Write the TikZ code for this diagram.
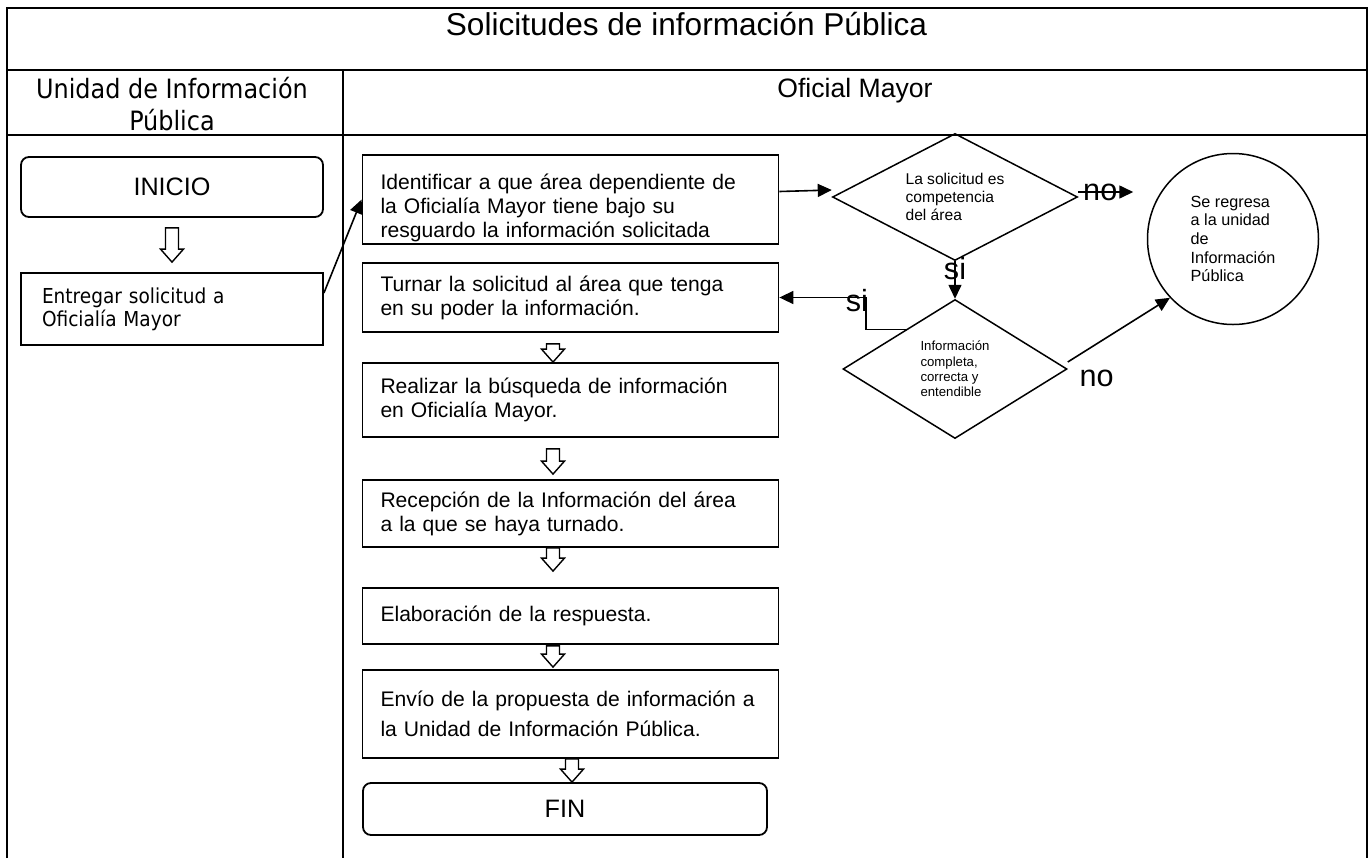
\documentclass[tikz,border=0pt]{standalone}
\usepackage{fontspec}
\setmainfont{Liberation Sans}
\newfontfamily\tahoma{DejaVu Sans Condensed}
\usetikzlibrary{shapes.geometric}
\usetikzlibrary{arrows.meta}
\usetikzlibrary{calc}

\tikzset{
  linea/.style={line width=0.75pt},
  paso/.style={draw, line width=0.9pt, align=left, inner xsep=9pt, inner ysep=0pt, text width=190pt, font=\fontsize{10.55}{12}\selectfont},
  extremo/.style={draw, line width=0.9pt, rounded corners=4pt, font=\fontsize{12.6}{14}\selectfont},
  decision/.style={draw, diamond, aspect=2, inner sep=0pt, line width=0.75pt, align=left},
  flecha/.style={line width=0.8pt, ->},
  etiq/.style={inner sep=0pt, font=\fontsize{15.3}{16}\selectfont},
  hueco/.style={draw, fill=white, line width=0.7pt, to path={let \p1=(\tikztostart), \p2=(\tikztotarget) in
    (\x1-3.25pt,\y1) -- (\x1-3.25pt,\y2+6.5pt) -- (\x1-5.75pt,\y2+6.5pt) -- (\x1,\y2) -- (\x1+5.75pt,\y2+6.5pt) -- (\x1+3.25pt,\y2+6.5pt) -- (\x1+3.25pt,\y1) -- cycle}}
}

\begin{document}
\begin{tikzpicture}[x=0.5pt, y=-0.5pt, >={Triangle[length=7pt, width=6.5pt]}]
  \useasboundingbox (0,0) rectangle (1372,858);
  \draw[linea] (7,858) -- (7,8) -- (1367,8) -- (1367,858);
  \draw[linea] (7,70) -- (1367,70);
  \draw[linea] (7,135) -- (1367,135);
  \draw[linea] (343,70) -- (343,858);
  \node[anchor=base, font=\fontsize{15.8}{18}\selectfont] (titulo) at (686.5,35) {Solicitudes de información Pública};
  \node[align=center, font=\tahoma\fontsize{13.3}{16}\selectfont] (unidad) at (172,104) {Unidad de Información\\Pública};
  \node[anchor=base, font=\fontsize{13.3}{15}\selectfont] (oficial) at (855,97) {Oficial Mayor};

  \node[extremo, minimum width=151pt, minimum height=30pt] (inicio) at (172,187) {INICIO};
  \node[draw, line width=0.9pt, align=left, inner xsep=10.5pt, text width=130pt, minimum height=36pt, font=\tahoma\fontsize{10.3}{11.5}\selectfont] (entregar) at (172,309) {Entregar solicitud a\\Oficialía Mayor};

  \node[paso, minimum height=44.5pt] (identificar) at (570.5,199.5) {\rule{0pt}{16pt}Identificar a que área dependiente de\\la Oficialía Mayor tiene bajo su\\resguardo la información solicitada};
  \node[paso, minimum height=34.5pt] (turnar) at (570.5,297.5) {Turnar la solicitud al área que tenga\\en su poder la información.};
  \node[paso, minimum height=37pt] (realizar) at (570.5,400) {Realizar la búsqueda de información\\en Oficialía Mayor.};
  \node[paso, minimum height=33.5pt] (recepcion) at (570.5,513.5) {Recepción de la Información del área\\a la que se haya turnado.};
  \node[paso, minimum height=28pt] (elaboracion) at (570.5,616) {Elaboración de la respuesta.};
  \node[paso, minimum height=44pt, font=\fontsize{10.55}{15}\selectfont] (envio) at (570.5,714) {Envío de la propuesta de información a\\la Unidad de Información Pública.};
  \node[extremo, minimum width=202pt, minimum height=26pt] (fin) at (565,809) {FIN};

  \node[decision, minimum width=122.5pt, minimum height=63.5pt, font=\fontsize{7.8}{9}\selectfont] (d1) at (955,197) {La solicitud es\\competencia\\del área};
  \node[decision, minimum width=112pt, minimum height=69.5pt, font=\fontsize{6.6}{7.7}\selectfont] (d2) at (955,369) {Información\\completa,\\correcta y\\entendible};
  \node[draw, circle, line width=0.75pt, minimum size=85.5pt, inner sep=0pt, align=left, font=\fontsize{8.1}{9.3}\selectfont] (regreso) at (1233,239) {Se regresa\\a la unidad\\de\\Información\\Pública};

  \draw[hueco] ([yshift=-5pt]inicio.south) to ([yshift=5pt]entregar.north);
  \draw[hueco] ([xshift=-8.75pt,yshift=-5.5pt]turnar.south) to ([xshift=-8.75pt]realizar.north);
  \draw[hueco] ([xshift=-8.75pt,yshift=-5.5pt]realizar.south) to ([xshift=-8.75pt,yshift=2.5pt]recepcion.north);
  \draw[hueco] ([xshift=-8.75pt]recepcion.south) to ([xshift=-8.75pt,yshift=8pt]elaboracion.north);
  \draw[hueco] ([xshift=-8.75pt,yshift=-0.5pt]elaboracion.south) to ([xshift=-8.75pt,yshift=1pt]envio.north);
  \draw[hueco] ([xshift=0.75pt]envio.south) to ([xshift=3.5pt]fin.north);

  \draw[flecha] ([yshift=8pt]entregar.east) -- (identificar.west);
  \draw[flecha] ([yshift=4pt]identificar.east) -- ([yshift=3.5pt]d1.west);
  \coordinate (noend) at ([xshift=27.5pt,yshift=2.5pt]d1.east);
  \draw[flecha] ([yshift=2.5pt]d1.east) -- node[etiq, pos=0.4] (no1) {no} (noend);
  \draw[flecha] (d1.south) -- node[etiq, pos=0.2] (si1) {si} (d2.north);
  \draw[flecha] (d2.141) -- ++(-40,0) |- node[etiq, pos=0.5, xshift=-4.5pt, yshift=-1.5pt] (si2) {si} (turnar.east);
  \draw[flecha] ([yshift=3.5pt]d2.east) -- node[etiq, at start, anchor=west, xshift=5.5pt, yshift=-8pt] (no2) {no} (regreso.223);
\end{tikzpicture}
\end{document}
